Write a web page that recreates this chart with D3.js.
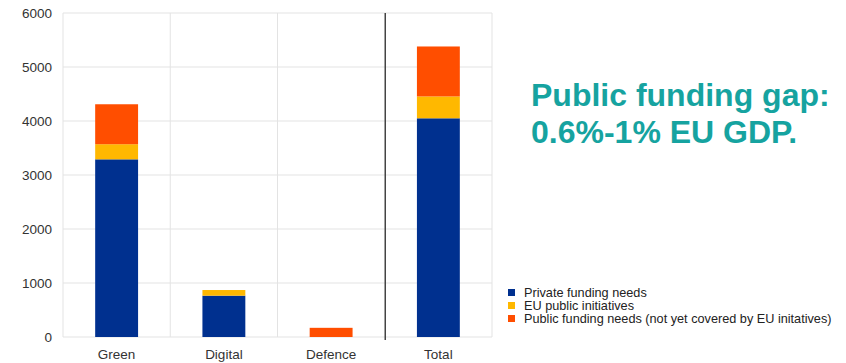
<!DOCTYPE html>
<html>
<head>
<meta charset="utf-8">
<script src="https://cdn.jsdelivr.net/npm/d3@7"></script>
<style>
  body { margin: 0; background: #fff; }
  text { font-family: "Liberation Sans", Arial, sans-serif; }
</style>
</head>
<body>
<div id="chart"></div>
<script>
var categories = ["Green", "Digital", "Defence", "Total"];
var seriesNames = ["Private funding needs", "EU public initiatives", "Public  funding needs (not yet covered by EU initatives)"];
var privateNeeds = [3290, 765, 0, 4050];
var euInitiatives = [280, 105, 0, 405];
var publicNeeds = [740, 0, 170, 925];
var yTicks = [0, 1000, 2000, 3000, 4000, 5000, 6000];
var colors = ["#00308f", "#ffb800", "#ff4e00"];

var margin = { top: 13, right: 354, bottom: 26, left: 63 },
    width = 846 - margin.left - margin.right,
    height = 363 - margin.top - margin.bottom;

var svg = d3.select("#chart")
    .append("svg")
    .attr("width", 846)
    .attr("height", 363)
    .append("g")
    .attr("transform", "translate(" + margin.left + "," + margin.top + ")");

var rows = categories.map(function (c, i) {
    return { cat: c, p: privateNeeds[i], e: euInitiatives[i], g: publicNeeds[i] };
});
var stack = d3.stack().keys(["p", "e", "g"])(rows);

var x = d3.scaleBand()
    .domain(categories)
    .range([0, width])
    .paddingInner(0)
    .paddingOuter(0);

var y = d3.scaleLinear()
    .domain([0, 6000])
    .range([height, 0]);

// grid
svg.append("g")
    .selectAll("line")
    .data(yTicks)
    .enter().append("line")
    .attr("x1", 0).attr("x2", width)
    .attr("y1", function (d) { return y(d); })
    .attr("y2", function (d) { return y(d); })
    .attr("stroke", "#e3e3e3")
    .attr("stroke-width", 1);

svg.append("g")
    .selectAll("line")
    .data([0, 1, 2, 4])
    .enter().append("line")
    .attr("x1", function (d) { return d * x.bandwidth(); })
    .attr("x2", function (d) { return d * x.bandwidth(); })
    .attr("y1", 0).attr("y2", height)
    .attr("stroke", "#e3e3e3")
    .attr("stroke-width", 1);

// divider before Total
svg.append("line")
    .attr("x1", x("Total") + 0.5).attr("x2", x("Total") + 0.5)
    .attr("y1", 0).attr("y2", height + 3)
    .attr("stroke", "#444")
    .attr("stroke-width", 1.5);

// bars
var bw = x.bandwidth() * 0.4;
svg.append("g")
    .selectAll("g")
    .data(stack)
    .enter().append("g")
    .attr("fill", function (d, i) { return colors[i]; })
    .selectAll("rect")
    .data(function (d) { return d; })
    .enter().append("rect")
    .attr("x", function (d) { return x(d.data.cat) + (x.bandwidth() - bw) / 2; })
    .attr("y", function (d) { return y(d[1]); })
    .attr("width", bw)
    .attr("height", function (d) { return y(d[0]) - y(d[1]); });

// y labels
var yAxis = svg.append("g")
    .call(d3.axisLeft(y).tickValues(yTicks).tickSize(0).tickPadding(11).tickFormat(d3.format("d")));
yAxis.select(".domain").remove();
yAxis.selectAll("text")
    .attr("fill", "#333")
    .style("font-size", "13.5px");

// x labels
var xAxis = svg.append("g")
    .attr("transform", "translate(0," + height + ")")
    .call(d3.axisBottom(x).tickSize(0).tickPadding(12));
xAxis.select(".domain").remove();
xAxis.selectAll("text")
    .attr("fill", "#333")
    .style("font-size", "13.5px");

// legend
var legend = svg.append("g")
    .attr("transform", "translate(" + (508 - margin.left) + "," + (289 - margin.top) + ")");
seriesNames.forEach(function (name, i) {
    legend.append("rect")
        .attr("x", 0)
        .attr("y", i * 13)
        .attr("width", 7)
        .attr("height", 7)
        .attr("fill", colors[i]);
    legend.append("text")
        .attr("x", 16)
        .attr("y", i * 13 + 8)
        .attr("fill", "#222")
        .style("font-size", "12.7px")
        .text(name);
});

// headline
var head = svg.append("text")
    .attr("x", 531 - margin.left)
    .attr("y", 106 - margin.top)
    .attr("fill", "#16a3a0")
    .attr("font-weight", "bold")
    .style("font-size", "32px");
head.append("tspan").attr("x", 531 - margin.left).text("Public funding gap:");
head.append("tspan").attr("x", 531 - margin.left).attr("dy", 37).text("0.6%-1% EU GDP.");
</script>
</body>
</html>
